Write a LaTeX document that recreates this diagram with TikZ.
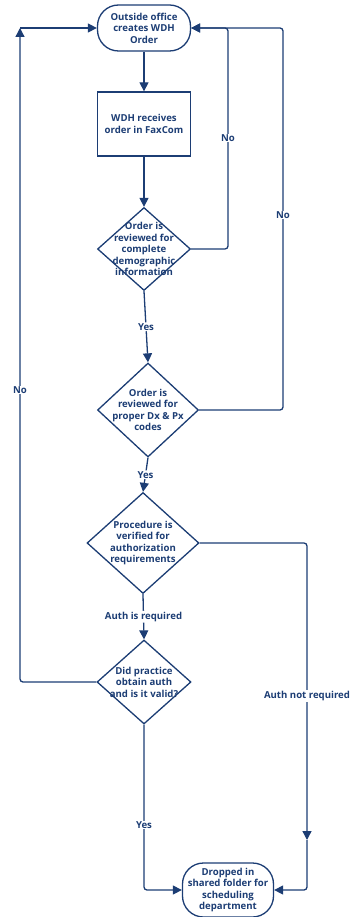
\documentclass[tikz,border=0pt]{standalone}
\usepackage{fontspec}
\setmainfont{Open Sans}
\usetikzlibrary{shapes.geometric,arrows.meta}
\definecolor{navy}{HTML}{1C3D74}
\begin{document}
\begin{tikzpicture}[x=1pt,y=-1pt,
  every node/.style={font=\bfseries\fontsize{9.6}{11.5}\selectfont, text=navy, align=center},
  shp/.style={draw=navy, line width=1.3pt, fill=white, inner sep=0pt},
  term/.style={shp, rectangle, rounded corners=21pt},
  proc/.style={shp, rectangle},
  dec/.style={shp, diamond},
  conn/.style={draw=navy, line width=1.3pt, rounded corners=3pt},
  arr/.style={conn, -{Triangle[length=9pt,width=9pt]}},
  lbl/.style={fill=white, inner sep=1pt}
]
\useasboundingbox (0,0) rectangle (352,917);

\node[term, minimum width=93pt, minimum height=46pt] (start) at (144,28) {Outside office\\creates WDH\\Order};
\node[proc, minimum width=93pt, minimum height=64pt] (recv) at (144,124) {WDH receives\\order in FaxCom};
\node[dec, minimum width=93pt, minimum height=83pt,
  label={center:Order is\\reviewed for\\complete\\demographic\\information}] (d1) at (144,249) {};
\node[dec, minimum width=101pt, minimum height=94pt,
  label={center:Order is\\reviewed for\\proper Dx \& Px\\codes}] (d2) at (148,410) {};
\node[dec, minimum width=112pt, minimum height=101pt,
  label={center:Procedure is\\verified for\\authorization\\requirements}] (d3) at (143,543) {};
\node[dec, minimum width=94pt, minimum height=84pt,
  label={center:Did practice\\obtain auth\\and is it valid?}] (d4) at (144,682) {};
\node[term, minimum width=91pt, minimum height=54pt] (end) at (228,890) {Dropped in\\shared folder for\\scheduling\\department};

\coordinate (nw) at (20,28);
\coordinate (c3) at (307,840);

\draw[arr] (start.south) -- (recv.north);
\draw[arr] (recv.south) -- (d1.north);
\draw[arr] (d1.east) -- (228,249) -- (228,28) -- (start.east);
\node[lbl] (no1) at (228,138) {No};
\draw[arr] (d2.east) -- (283,410) -- (283,28) -- (start.east);
\node[lbl] (no2) at (283,215) {No};
\draw[arr] (d1.south) -- (d2.north) node[lbl, midway] (yes1) {Yes};
\draw[arr] (d2.south) -- (d3.north) node[lbl, midway] (yes2) {Yes};
\draw[arr] (d3.south) -- (d4.north) node[lbl, midway] (authreq) {Auth is required};
\draw[arr] (d3.east) -| (c3);
\draw[arr] (c3) |- (end.east);
\node[lbl] (authnot) at (307,696) {Auth not required};
\draw[arr] (d4.west) -| (nw);
\draw[arr] (nw) -- (start.west);
\node[lbl] (no3) at (20,390) {No};
\draw[arr] (d4.south) |- (end.west);
\node[lbl] (yes3) at (144,825) {Yes};
\end{tikzpicture}
\end{document}
